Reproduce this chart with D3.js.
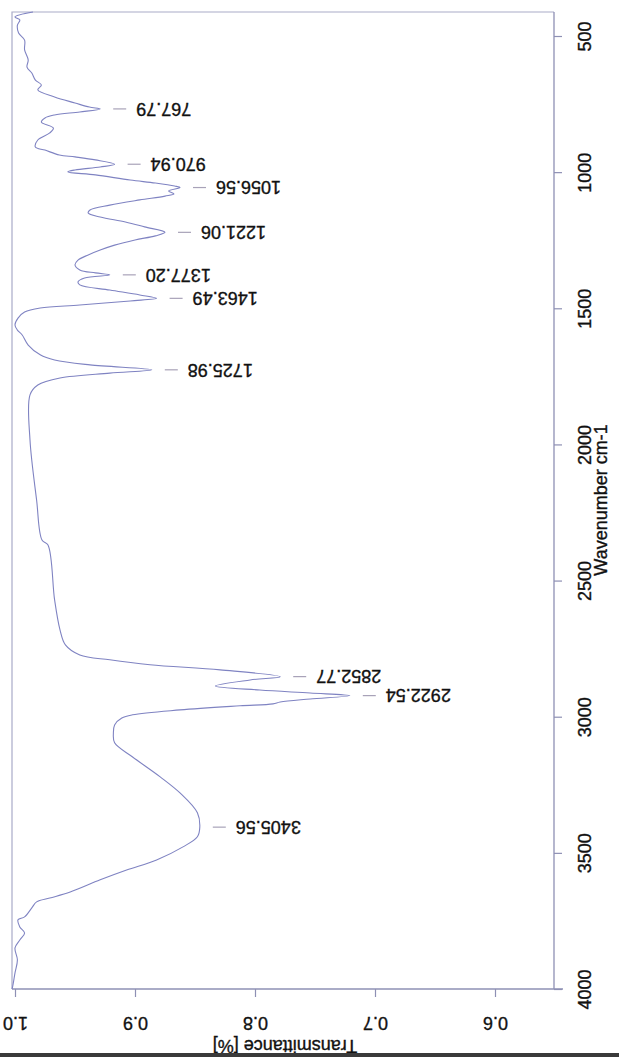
<!DOCTYPE html>
<html>
<head>
<meta charset="utf-8">
<script src="https://cdn.jsdelivr.net/npm/d3@7/dist/d3.min.js"></script>
<style>
  html, body { margin: 0; padding: 0; background: #ffffff; }
  svg { display: block; font-family: "Liberation Sans", Arial, sans-serif; }
  svg text { stroke: #111; stroke-width: 0.35px; }
</style>
</head>
<body>
<svg id="chart" width="619" height="1057"></svg>
<script>
// IR spectrum: wavenumber (cm-1) against transmittance
const wavenumber = [
  412, 430, 441, 460, 489, 515, 551, 588, 614, 636, 662, 680, 698, 724, 746, 761,
  767.79, 779, 790, 801, 816, 838, 856, 882, 908, 919, 937, 944, 955, 970.94, 981,
  992, 999, 1010, 1029, 1040, 1051, 1056.56, 1069, 1080, 1088, 1102, 1121, 1139,
  1150, 1165, 1183, 1201, 1221.06, 1234, 1249, 1268, 1286, 1304, 1323, 1341, 1359,
  1370, 1377.20, 1389, 1403, 1414, 1433, 1451, 1463.49, 1473, 1488, 1499, 1514,
  1536, 1561, 1580, 1598, 1635, 1671, 1690, 1708, 1725.98, 1738, 1756, 1782, 1818,
  1984, 2204, 2351, 2369, 2571, 2681, 2736, 2773, 2791, 2809, 2828, 2852.77, 2865,
  2887, 2902, 2913, 2922.54, 2935, 2946, 2953, 2960, 2975, 2993, 3005, 3030, 3060,
  3096, 3148, 3221, 3280, 3353, 3405.56, 3441, 3478, 3526, 3563, 3599, 3644, 3666,
  3680, 3702, 3735, 3746, 3772, 3794, 3820, 3849, 3893, 3941, 3992, 4000
];
const transmittance = [
  0.985, 1.000, 0.996, 0.998, 0.997, 0.992, 0.992, 0.989, 0.990, 0.986, 0.983, 0.978, 0.981, 0.967, 0.950, 0.938,
  0.929, 0.946, 0.967, 0.975, 0.978, 0.968, 0.971, 0.981, 0.983, 0.975, 0.963, 0.950, 0.933, 0.917, 0.929,
  0.950, 0.956, 0.933, 0.904, 0.883, 0.867, 0.8625, 0.872, 0.8675, 0.875, 0.896, 0.921, 0.9375,
  0.939, 0.929, 0.908, 0.892, 0.875, 0.883, 0.900, 0.917, 0.929, 0.939, 0.9475, 0.950, 0.946,
  0.933, 0.921, 0.942, 0.9475, 0.946, 0.921, 0.896, 0.882, 0.904, 0.946, 0.979, 0.992,
  0.9975, 1.000, 0.998, 0.994, 0.989, 0.979, 0.967, 0.9375, 0.886, 0.921, 0.9625, 0.981, 0.9875,
  0.9875, 0.982, 0.9775, 0.9725, 0.967, 0.9625, 0.958, 0.946, 0.921, 0.8875, 0.829, 0.779, 0.804,
  0.833, 0.796, 0.754, 0.721, 0.754, 0.779, 0.785, 0.8125, 0.8625, 0.902, 0.911, 0.917, 0.918,
  0.917, 0.902, 0.879, 0.8625, 0.848, 0.846, 0.848, 0.860, 0.882, 0.907, 0.929, 0.954, 0.971,
  0.982, 0.986, 0.992, 0.9975, 0.996, 0.992, 0.996, 1.000, 0.998, 1.000, 1.002, 1.0025
];

// Labelled absorption bands
const peakWavenumbers = [767.79, 970.94, 1056.56, 1221.06, 1377.20, 1463.49, 1725.98, 2852.77, 2922.54, 3405.56];
const peakLabels = ["767.79", "970.94", "1056.56", "1221.06", "1377.20", "1463.49", "1725.98", "2852.77", "2922.54", "3405.56"];

// Axis ticks
const wavenumberTicks = [500, 1000, 1500, 2000, 2500, 3000, 3500, 4000];
const transmittanceTicks = [1.0, 0.9, 0.8, 0.7, 0.6];

const frame = { left: 12, right: 554, top: 12, bottom: 989 };

const svg = d3.select("#chart");

// Wavenumber runs down the page, transmittance across it
const yW = d3.scaleLinear().domain([500, 4000]).range([36, 989]);
const xT = d3.scaleLinear().domain([1.0, 0.6]).range([15, 495]);

const axisColor = "#8e90b4";
const lineColor = "#7f83c2";

// plot frame (left and top edges)
svg.append("path")
  .attr("d", `M${frame.left},${frame.bottom}V${frame.top}H${frame.right}`)
  .attr("fill", "none")
  .attr("stroke", "#a9abc8")
  .attr("stroke-width", 1.2);

// right axis: wavenumber
const gRight = svg.append("g")
  .attr("transform", `translate(${frame.right},0)`)
  .call(d3.axisRight(yW).tickValues(wavenumberTicks).tickSize(8).tickSizeOuter(0).tickFormat(d3.format("d")));
gRight.select(".domain").remove();
gRight.append("line")
  .attr("x1", 0).attr("x2", 0).attr("y1", frame.top).attr("y2", frame.bottom)
  .attr("stroke", axisColor).attr("stroke-width", 1.3);
gRight.selectAll(".tick line").attr("stroke", axisColor).attr("stroke-width", 1.2);
gRight.selectAll(".tick text")
  .attr("x", 0).attr("y", 0).attr("dy", "0.35em")
  .attr("text-anchor", "middle")
  .attr("transform", "translate(31,0) rotate(-90)")
  .attr("font-size", 18)
  .attr("font-family", "Liberation Sans, Arial, sans-serif")
  .attr("fill", "#111");

// bottom axis: transmittance
const gBottom = svg.append("g")
  .attr("transform", `translate(0,${frame.bottom})`)
  .call(d3.axisBottom(xT).tickValues(transmittanceTicks).tickSize(8).tickSizeOuter(0).tickFormat(d3.format(".1f")));
gBottom.select(".domain").remove();
gBottom.append("line")
  .attr("x1", frame.left).attr("x2", frame.right + 9).attr("y1", 0).attr("y2", 0)
  .attr("stroke", axisColor).attr("stroke-width", 1.3);
gBottom.selectAll(".tick line").attr("stroke", axisColor).attr("stroke-width", 1.2);
gBottom.selectAll(".tick text")
  .attr("x", 0).attr("y", 0).attr("dy", "0.35em")
  .attr("text-anchor", "middle")
  .attr("transform", "translate(0,34) rotate(180)")
  .attr("font-size", 18)
  .attr("font-family", "Liberation Sans, Arial, sans-serif")
  .attr("fill", "#111");

// axis titles
svg.append("text")
  .attr("transform", "translate(601,500) rotate(-90)")
  .attr("text-anchor", "middle")
  .attr("dy", "0.35em")
  .attr("font-size", 18)
  .attr("fill", "#111")
  .text("Wavenumber cm-1");

svg.append("text")
  .attr("transform", "translate(285,1046) rotate(180)")
  .attr("text-anchor", "middle")
  .attr("dy", "0.35em")
  .attr("font-size", 18)
  .attr("fill", "#111")
  .text("Transmittance [%]");

// spectrum trace
const data = wavenumber.map((w, i) => ({ w, t: transmittance[i] }));
const line = d3.line()
  .x(d => xT(d.t))
  .y(d => yW(d.w))
  .curve(d3.curveCatmullRom.alpha(0.5));

svg.append("path")
  .datum(data)
  .attr("fill", "none")
  .attr("stroke", lineColor)
  .attr("stroke-width", 1.1)
  .attr("d", line);

// peak markers and labels
const peaks = peakWavenumbers.map((w, i) => {
  const j = wavenumber.indexOf(w);
  return { w, t: transmittance[j], label: peakLabels[i] };
});

const gPeaks = svg.append("g");
gPeaks.selectAll("line")
  .data(peaks)
  .join("line")
  .attr("x1", d => xT(d.t) + 13)
  .attr("x2", d => xT(d.t) + 26)
  .attr("y1", d => yW(d.w))
  .attr("y2", d => yW(d.w))
  .attr("stroke", "#a8a2b8")
  .attr("stroke-width", 1.2);

gPeaks.selectAll("text")
  .data(peaks)
  .join("text")
  .attr("transform", d => `translate(${xT(d.t) + 36},${yW(d.w)}) rotate(180)`)
  .attr("text-anchor", "end")
  .attr("dy", "0.35em")
  .attr("font-size", 18)
  .attr("fill", "#111")
  .text(d => d.label);

// dark strip along the lower edge of the sheet
svg.append("rect")
  .attr("x", 0).attr("y", 1053).attr("width", 619).attr("height", 4)
  .attr("fill", "#3a3a3a")
  .attr("stroke", "none");
</script>
</body>
</html>
